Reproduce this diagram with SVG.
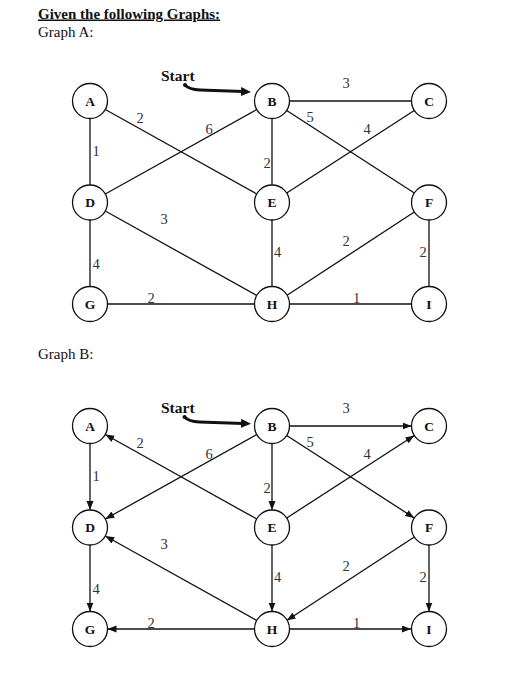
<svg xmlns="http://www.w3.org/2000/svg" width="521" height="700" viewBox="0 0 521 700">
<style>
.hd{font-family:"Liberation Serif","Times New Roman",serif;font-size:15px;fill:#111}
.b{font-weight:bold}
.nc{fill:#fff;stroke:#111;stroke-width:1.3}
.nl{font-family:"Liberation Serif","Times New Roman",serif;font-size:13.5px;font-weight:bold;fill:#111;text-anchor:middle}
.e{stroke:#111;stroke-width:1.3;fill:none}
.ea{stroke:#111;stroke-width:1.3;fill:none;marker-end:url(#arr)}
.el{font-family:"Liberation Serif","Times New Roman",serif;font-size:14.5px;fill:#333;text-anchor:middle}
.st{font-family:"Liberation Serif","Times New Roman",serif;font-size:15.5px;font-weight:bold;fill:#111}
.sa{stroke:#111;stroke-width:3;fill:none;marker-end:url(#sarr)}
</style>
<defs>
<marker id="arr" markerUnits="userSpaceOnUse" markerWidth="10" markerHeight="8" refX="9" refY="3.5" orient="auto"><path d="M0,0 L9,3.5 L0,7 z" fill="#111"/></marker>
<marker id="sarr" markerUnits="userSpaceOnUse" markerWidth="12" markerHeight="10" refX="2" refY="4.5" orient="auto"><path d="M0,0 L10,4.5 L0,9 z" fill="#111"/></marker>
</defs>
<rect width="521" height="700" fill="#fff"/>
<text class="hd b" x="38" y="18.5" text-decoration="underline">Given the following Graphs:</text>
<text class="hd" x="38" y="36.5">Graph A:</text>
<text class="hd" x="38" y="358.5">Graph B:</text>

<!-- Graph A -->
<g id="graphA">
<g id="connectorsA">
<line class="e" x1="90" y1="118.5" x2="90" y2="185"/>
<line class="e" x1="105.3" y1="109.5" x2="256.7" y2="194"/>
<line class="e" x1="105.3" y1="194" x2="256.7" y2="109.5"/>
<line class="e" x1="272" y1="118.5" x2="272" y2="185"/>
<line class="e" x1="289.5" y1="101" x2="411.5" y2="101"/>
<line class="e" x1="286.7" y1="110.5" x2="414.3" y2="193"/>
<line class="e" x1="286.7" y1="193" x2="414.3" y2="110.5"/>
<line class="e" x1="105.3" y1="211" x2="256.7" y2="295.5"/>
<line class="e" x1="90" y1="220" x2="90" y2="286.5"/>
<line class="e" x1="272" y1="220" x2="272" y2="286.5"/>
<line class="e" x1="414.3" y1="212" x2="286.7" y2="295.5"/>
<line class="e" x1="254.5" y1="304" x2="107.5" y2="304"/>
<line class="e" x1="289.5" y1="304" x2="411" y2="304"/>
<line class="e" x1="429" y1="220" x2="429" y2="286.5"/>
<path class="sa" d="M185,85 Q189,89.5 200,90 L243,91.6"/>
<circle cx="185" cy="85" r="2" fill="#111"/>
</g>
<g id="labelsA">
<text class="el" x="96" y="156">1</text>
<text class="el" x="140" y="122.7">2</text>
<text class="el" x="209" y="134">6</text>
<text class="el" x="267" y="168">2</text>
<text class="el" x="346" y="88">3</text>
<text class="el" x="310" y="122">5</text>
<text class="el" x="367" y="134">4</text>
<text class="el" x="164" y="224">3</text>
<text class="el" x="96" y="269">4</text>
<text class="el" x="277.5" y="257">4</text>
<text class="el" x="346" y="246">2</text>
<text class="el" x="423" y="257">2</text>
<text class="el" x="151" y="302.5">2</text>
<text class="el" x="356.7" y="303">1</text>
<text class="st" x="161" y="80.7">Start</text>
</g>
<g id="A-A"><circle class="nc" cx="90" cy="101" r="17.5"/><text class="nl" x="90" y="105.6">A</text></g>
<g id="A-B"><circle class="nc" cx="272" cy="101" r="17.5"/><text class="nl" x="272" y="105.6">B</text></g>
<g id="A-C"><circle class="nc" cx="429" cy="101" r="17.5"/><text class="nl" x="429" y="105.6">C</text></g>
<g id="A-D"><circle class="nc" cx="90" cy="202.5" r="17.5"/><text class="nl" x="90" y="207.1">D</text></g>
<g id="A-E"><circle class="nc" cx="272" cy="202.5" r="17.5"/><text class="nl" x="272" y="207.1">E</text></g>
<g id="A-F"><circle class="nc" cx="429" cy="202.5" r="17.5"/><text class="nl" x="429" y="207.1">F</text></g>
<g id="A-G"><circle class="nc" cx="90" cy="304" r="17.5"/><text class="nl" x="90" y="308.6">G</text></g>
<g id="A-H"><circle class="nc" cx="272" cy="304" r="17.5"/><text class="nl" x="272" y="308.6">H</text></g>
<g id="A-I"><circle class="nc" cx="429" cy="304" r="17.5"/><text class="nl" x="429" y="308.6">I</text></g>
</g>

<!-- Graph B -->
<g id="graphB" transform="translate(0,325)">
<g id="connectorsB">
<line class="ea" x1="90" y1="118.5" x2="90" y2="185"/>
<line class="ea" x1="256.7" y1="194" x2="105.3" y2="109.5"/>
<line class="ea" x1="256.7" y1="109.5" x2="105.3" y2="194"/>
<line class="ea" x1="272" y1="118.5" x2="272" y2="185"/>
<line class="ea" x1="289.5" y1="101" x2="411.5" y2="101"/>
<line class="ea" x1="286.7" y1="110.5" x2="414.3" y2="193"/>
<line class="ea" x1="286.7" y1="193" x2="414.3" y2="110.5"/>
<line class="ea" x1="256.7" y1="295.5" x2="105.3" y2="211"/>
<line class="ea" x1="90" y1="220" x2="90" y2="286.5"/>
<line class="ea" x1="272" y1="220" x2="272" y2="286.5"/>
<line class="ea" x1="414.3" y1="212" x2="286.7" y2="295.5"/>
<line class="ea" x1="254.5" y1="304" x2="107.5" y2="304"/>
<line class="ea" x1="289.5" y1="304" x2="411" y2="304"/>
<line class="ea" x1="429" y1="220" x2="429" y2="286.5"/>
<path class="sa" d="M184.5,92 Q188.5,96.5 199.5,97 L243,98.4"/>
<circle cx="184.5" cy="92" r="2" fill="#111"/>
</g>
<g id="labelsB">
<text class="el" x="96" y="156">1</text>
<text class="el" x="140" y="122.7">2</text>
<text class="el" x="209" y="134">6</text>
<text class="el" x="267" y="168">2</text>
<text class="el" x="346" y="88">3</text>
<text class="el" x="310" y="122">5</text>
<text class="el" x="367" y="134">4</text>
<text class="el" x="164" y="224">3</text>
<text class="el" x="96" y="269">4</text>
<text class="el" x="277.5" y="257">4</text>
<text class="el" x="346" y="246">2</text>
<text class="el" x="423" y="257">2</text>
<text class="el" x="151" y="302.5">2</text>
<text class="el" x="356.7" y="303">1</text>
<text class="st" x="161" y="87.5">Start</text>
</g>
<g id="B-A"><circle class="nc" cx="90" cy="101" r="17.5"/><text class="nl" x="90" y="105.6">A</text></g>
<g id="B-B"><circle class="nc" cx="272" cy="101" r="17.5"/><text class="nl" x="272" y="105.6">B</text></g>
<g id="B-C"><circle class="nc" cx="429" cy="101" r="17.5"/><text class="nl" x="429" y="105.6">C</text></g>
<g id="B-D"><circle class="nc" cx="90" cy="202.5" r="17.5"/><text class="nl" x="90" y="207.1">D</text></g>
<g id="B-E"><circle class="nc" cx="272" cy="202.5" r="17.5"/><text class="nl" x="272" y="207.1">E</text></g>
<g id="B-F"><circle class="nc" cx="429" cy="202.5" r="17.5"/><text class="nl" x="429" y="207.1">F</text></g>
<g id="B-G"><circle class="nc" cx="90" cy="304" r="17.5"/><text class="nl" x="90" y="308.6">G</text></g>
<g id="B-H"><circle class="nc" cx="272" cy="304" r="17.5"/><text class="nl" x="272" y="308.6">H</text></g>
<g id="B-I"><circle class="nc" cx="429" cy="304" r="17.5"/><text class="nl" x="429" y="308.6">I</text></g>
</g>
</svg>
